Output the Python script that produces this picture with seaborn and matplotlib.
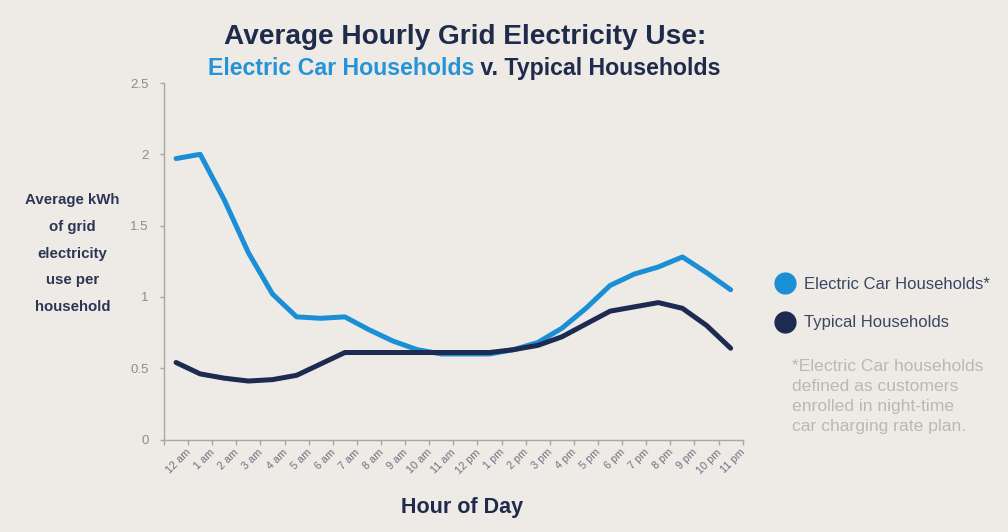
import numpy as np
import pandas as pd
import matplotlib
matplotlib.use("Agg")
import matplotlib.pyplot as plt
from matplotlib.lines import Line2D
from matplotlib.transforms import ScaledTranslation
import seaborn as sns

# Hour-of-day categories
hour_labels = ["12 am", "1 am", "2 am", "3 am", "4 am", "5 am", "6 am", "7 am",
               "8 am", "9 am", "10 am", "11 am", "12 pm", "1 pm", "2 pm", "3 pm",
               "4 pm", "5 pm", "6 pm", "7 pm", "8 pm", "9 pm", "10 pm", "11 pm"]

# Average kWh of grid electricity per household, by hour
ev_kwh = [1.97, 2.00, 1.68, 1.31, 1.02, 0.86, 0.85, 0.86, 0.77, 0.69, 0.63, 0.60,
          0.60, 0.60, 0.63, 0.68, 0.78, 0.92, 1.08, 1.16, 1.21, 1.28, 1.17, 1.05]
typical_kwh = [0.54, 0.46, 0.43, 0.41, 0.42, 0.45, 0.53, 0.61, 0.61, 0.61, 0.61, 0.61,
               0.61, 0.61, 0.63, 0.66, 0.72, 0.81, 0.90, 0.93, 0.96, 0.92, 0.80, 0.64]

series_names = ["Electric Car Households", "Typical Households"]
y_ticks = [0, 0.5, 1, 1.5, 2, 2.5]
y_tick_labels = ["0", "0.5", "1", "1.5", "2", "2.5"]

footnote_lines = ["*Electric Car households", "defined as customers",
                  "enrolled in night-time", "car charging rate plan."]
ylabel_lines = ["Average kWh", "of grid", "electricity", "use per", "household"]

BG = "#eeebe7"
BLUE = "#1b8fd6"
NAVY = "#1c2b4f"
TITLE_NAVY = "#1f2b4b"
AXIS_GRAY = "#a9a7a4"

sns.set_theme(style="white")
plt.rcParams["font.family"] = ["Liberation Sans", "DejaVu Sans"]

W, H = 1008, 532
fig = plt.figure(figsize=(W / 100, H / 100), dpi=100, facecolor=BG)
ax = fig.add_axes([164 / W, 1 - 439.5 / H, (742.7 - 164) / W, (439.5 - 83) / H])
ax.set_facecolor(BG)

df = pd.DataFrame({
    "hour": list(range(len(hour_labels))) * 2,
    "kwh": ev_kwh + typical_kwh,
    "series": [series_names[0]] * len(ev_kwh) + [series_names[1]] * len(typical_kwh),
})

palette = {series_names[0]: BLUE, series_names[1]: NAVY}
sns.lineplot(data=df, x="hour", y="kwh", hue="series", palette=palette,
             linewidth=3.6, legend=False, ax=ax, sort=False,
             solid_capstyle="round", solid_joinstyle="round")

# Axes: categories centred between boundary ticks
n = len(hour_labels)
ax.set_xlim(-0.5, n - 0.5)
ax.set_ylim(0, 2.5)
ax.set_xticks(np.arange(-0.5, n, 1.0), labels=[])
ax.set_xticks(np.arange(n), labels=hour_labels, minor=True)
ax.tick_params(axis="x", which="major", direction="out", length=3.5, width=1,
               color=AXIS_GRAY, bottom=True)
ax.tick_params(axis="x", which="minor", length=0, pad=8, labelsize=7.8,
               labelcolor="#6c7282")
for lbl in ax.get_xticklabels(minor=True):
    lbl.set_rotation(45)
    lbl.set_ha("right")
    lbl.set_va("center")
    lbl.set_rotation_mode("anchor")
    lbl.set_transform(lbl.get_transform() + ScaledTranslation(0.13, 0, fig.dpi_scale_trans))

ax.set_yticks(y_ticks, labels=y_tick_labels)
ax.tick_params(axis="y", direction="out", length=3, width=1, color=AXIS_GRAY,
               pad=8, labelsize=9.5, labelcolor="#8c8c8c", left=True)
ax.set_xlabel("")
ax.set_ylabel("")
for side in ["top", "right"]:
    ax.spines[side].set_visible(False)
for side in ["left", "bottom"]:
    ax.spines[side].set_color(AXIS_GRAY)
    ax.spines[side].set_linewidth(1)
ax.grid(False)

# Titles
fig.text(465 / W, 1 - 44.3 / H, "Average Hourly Grid Electricity Use:",
         ha="center", va="baseline", fontsize=20.2, fontweight="bold", color=TITLE_NAVY)

renderer = fig.canvas.get_renderer()
sub_y = 1 - 75 / H
t1 = fig.text(0, sub_y, "Electric Car Households", ha="left", va="baseline",
              fontsize=16.7, fontweight="bold", color="#2593d6")
t2 = fig.text(0, sub_y, " v. Typical Households", ha="left", va="baseline",
              fontsize=16.7, fontweight="bold", color=TITLE_NAVY)
w1 = t1.get_window_extent(renderer).width
w2 = t2.get_window_extent(renderer).width
start = 464.5 - (w1 + w2) / 2
t1.set_x(start / W)
t2.set_x((start + w1) / W)

# Axis titles
fig.text(462 / W, 1 - 512.7 / H, "Hour of Day", ha="center", va="baseline",
         fontsize=15.5, fontweight="bold", color=TITLE_NAVY)
for i, line in enumerate(ylabel_lines):
    fig.text(72.5 / W, 1 - (200 + 26.8 * i) / H, line, ha="center", va="center",
             fontsize=10.8, fontweight="bold", color="#2c3553")

# Legend with round markers
handles = [Line2D([], [], marker="o", linestyle="", markersize=15,
                  markerfacecolor=palette[s], markeredgecolor=palette[s])
           for s in series_names]
leg_labels = [series_names[0] + "*", series_names[1]]
leg = fig.legend(handles, leg_labels, loc="upper left",
                 bbox_to_anchor=(774.5 / W, 1 - 277 / H),
                 bbox_transform=fig.transFigure, frameon=False, fontsize=12,
                 handlelength=1.3, handletextpad=0.5, labelspacing=1.4,
                 borderpad=0, borderaxespad=0)
for txt in leg.get_texts():
    txt.set_color("#3c4560")

# Footnote
for i, line in enumerate(footnote_lines):
    fig.text(791.5 / W, 1 - (366.7 + 20 * i) / H, line, ha="left", va="center",
             fontsize=12.6, color="#bbb7b2")

fig.savefig("out.png", dpi=100, facecolor=BG)
